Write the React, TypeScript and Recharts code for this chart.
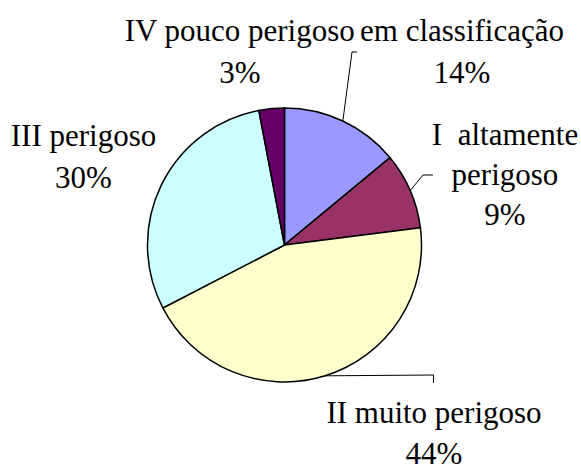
import React from "react";
import { PieChart, Pie, Cell } from "recharts";

const categories = [
  "em classificação",
  "I\u00A0 altamente\nperigoso",
  "II muito perigoso",
  "III perigoso",
  "IV pouco perigoso",
];
const values = [14, 9, 44.4, 29.6, 3];
const colors = ["#9999FF", "#993366", "#FFFFCC", "#CCFFFF", "#660066"];

const data = categories.map((name, i) => ({ name, value: values[i] }));

// label layout relative to the pie centre (text centre x, first baseline y, line gap, leader)
const layout = [
  { dx: 177.5, dy: -204, gap: 42, leader: [[67.5, -193], [72.5, -193]] },
  { dx: 220.5, dy: -100, gap: 40, leader: [[138.5, -70], [148.5, -70]] },
  { dx: 149.5, dy: 178, gap: 41, leader: [[149, 130], [149, 138]] },
  { dx: -201, dy: -99, gap: 42, leader: null },
  { dx: -44.5, dy: -204, gap: 42, leader: null },
];

const RADIAN = Math.PI / 180;
const FONT = "Liberation Serif";
const SIZE = 31;

let ctx: any = null;
const measure = (t: string): number | null => {
  try {
    if (!ctx) ctx = document.createElement("canvas").getContext("2d");
    if (!ctx) return null;
    ctx.font = `${SIZE}px "${FONT}"`;
    return ctx.measureText(t).width;
  } catch (e) {
    return null;
  }
};

const renderLabel = (props: any) => {
  const { cx, cy, midAngle, outerRadius, index, percent, name } = props;
  const l = layout[index];
  const ex = cx + outerRadius * Math.cos(-midAngle * RADIAN);
  const ey = cy + outerRadius * Math.sin(-midAngle * RADIAN);
  const lines = [...String(name).split("\n"), `${Math.round(percent * 100)}%`];
  const tx = cx + l.dx;
  const ty = cy + l.dy;
  return (
    <g key={`lbl-${index}`}>
      {l.leader && (
        <polyline
          points={[[ex, ey], ...l.leader.map(([a, b]) => [cx + a, cy + b])]
            .map((p) => p.join(","))
            .join(" ")}
          fill="none"
          stroke="#000"
          strokeWidth={1}
        />
      )}
      {lines.map((t, i) => {
        const w = measure(t);
        return (
          <text
            key={i}
            x={w == null ? tx : tx - w / 2}
            y={ty + i * l.gap}
            textAnchor={w == null ? "middle" : undefined}
            fontFamily={FONT}
            fontSize={SIZE}
          >
            {t}
          </text>
        );
      })}
    </g>
  );
};

export default function App() {
  return (
    <div style={{ position: "absolute", left: 0, top: 0, width: 581, height: 466, background: "#fff" }}>
      <PieChart width={581} height={466} margin={{ top: 0, right: 0, bottom: 0, left: 0 }}>
        <Pie
          data={data}
          dataKey="value"
          nameKey="name"
          cx={284.5}
          cy={245}
          outerRadius={137}
          startAngle={90}
          endAngle={-270}
          stroke="#000"
          strokeWidth={1.5}
          isAnimationActive={false}
          labelLine={false}
          label={renderLabel}
        >
          {data.map((d, i) => (
            <Cell key={d.name} fill={colors[i]} />
          ))}
        </Pie>
      </PieChart>
    </div>
  );
}
